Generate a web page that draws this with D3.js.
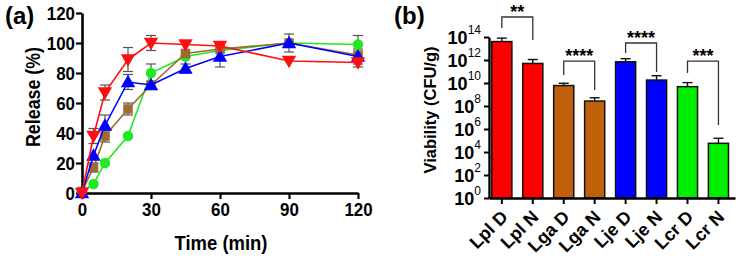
<!DOCTYPE html>
<html>
<head>
<meta charset="utf-8">
<script src="https://cdn.jsdelivr.net/npm/d3@7"></script>
<style>
  body { margin: 0; background: #fff; }
  svg { display: block; font-family: "Liberation Sans", Arial, sans-serif; }
</style>
</head>
<body>
<script>
// panel (a): release over time
var times = [0, 5, 10, 20, 30, 45, 60, 90, 120];
var greenRelease = [1, 6, 20, 38, 80, 91, 95, 100, 99];
var greenErr     = [0, 0, 0, 0, 6, 0, 0, 0, 6];
var brownRelease = [1, 17, 38, 56, 72, 93, 96, 100, 92];
var brownErr     = [0, 3, 4, 4, 0, 0, 0, 0, 0];
var blueRelease  = [0, 25, 45, 74, 72, 83, 91, 100, 91];
var blueErr      = [0, 0, 7, 5, 0, 3, 7, 6, 5];
var redRelease   = [0, 38, 67, 89, 100, 99, 98, 88, 87];
var redErr       = [0, 5, 5, 8, 5, 0, 0, 0, 3];
var releaseTicks = [0, 20, 40, 60, 80, 100, 120];
var timeTicks = [0, 30, 60, 90, 120];

// panel (b): viability
var strains = ["Lpl D", "Lpl N", "Lga D", "Lga N", "Lje D", "Lje N", "Lcr D", "Lcr N"];
var viability = [4e13, 5e11, 6e9, 2.7e8, 7e11, 1.8e10, 4.8e9, 5.7e4];
var viabilitySd = [4e13, 6e11, 3.5e9, 2.5e8, 6e11, 2.5e10, 6e9, 1e5];
var barColors = ["#ff0000", "#ff0000", "#c0600a", "#c0600a", "#0000ff", "#0000ff", "#00ee00", "#00ee00"];
var logTicks = [1, 1e2, 1e4, 1e6, 1e8, 1e10, 1e12, 1e14];
// brackets: [from, to, top, left leg end, right leg end, stars]
var brackets = [
  [0, 1, 5.5e15, 6e14, 5.5e13, "**"],
  [2, 3, 8e11, 5e10, 2.5e9, "****"],
  [4, 5, 3e13, 4e12, 9e10, "****"],
  [6, 7, 8e11, 7.5e10, 2.2e6, "***"]
];

var W = 744, H = 262;
var svg = d3.select("body").append("svg").attr("width", W).attr("height", H);

// condensed look for the bold labels of panel (a)
var squeeze = function (sel, perChar) {
  sel.attr("lengthAdjust", "spacingAndGlyphs")
    .attr("textLength", function () { return this.textContent.length * perChar; });
};

// ---------- panel (a) ----------
var x = d3.scaleLinear().domain([0, 120]).range([82, 358]);
var y = d3.scaleLinear().domain([0, 120]).range([193, 13]);

var gA = svg.append("g");

var xAxisA = gA.append("g").attr("transform", "translate(0,193)")
  .call(d3.axisBottom(x).tickValues(timeTicks).tickSize(6).tickSizeOuter(0).tickPadding(4));
var yAxisA = gA.append("g").attr("transform", "translate(82,0)")
  .call(d3.axisLeft(y).tickValues(releaseTicks).tickSize(6).tickSizeOuter(0).tickPadding(1));

[xAxisA, yAxisA].forEach(function (ax) {
  ax.select(".domain").attr("stroke-width", 2.6);
  ax.selectAll(".tick line").attr("stroke-width", 2.2);
  ax.selectAll("text").attr("font-size", 19)
    .attr("font-weight", "bold").attr("fill", "#000")
    .call(squeeze, 9.4);
});
yAxisA.selectAll("text").attr("dy", "0.36em");

gA.append("text").attr("transform", "translate(40,97) rotate(-90)")
  .attr("text-anchor", "middle").attr("font-size", 20).attr("font-weight", "bold")
  .attr("textLength", 100).attr("lengthAdjust", "spacingAndGlyphs")
  .text("Release (%)");
gA.append("text").attr("x", 221).attr("y", 250)
  .attr("text-anchor", "middle").attr("font-size", 20).attr("font-weight", "bold")
  .attr("textLength", 93).attr("lengthAdjust", "spacingAndGlyphs")
  .text("Time (min)");
gA.append("text").attr("x", 5).attr("y", 24)
  .attr("font-size", 24).attr("font-weight", "bold").text("(a)");

var series = [
  { vals: greenRelease, err: greenErr, color: "#22e822", shape: "circle" },
  { vals: brownRelease, err: brownErr, color: "#9b6b30", shape: "square" },
  { vals: blueRelease, err: blueErr, color: "#0000ff", shape: "up" },
  { vals: redRelease, err: redErr, color: "#ff1010", shape: "down" }
];

var line = d3.line()
  .x(function (d, i) { return x(times[i]); })
  .y(function (d) { return y(d); });

// error bars underneath
series.forEach(function (s) {
  var eg = gA.append("g").attr("stroke", "#555").attr("stroke-width", 1.2);
  s.vals.forEach(function (v, i) {
    if (!s.err[i]) return;
    var cx = x(times[i]);
    eg.append("line").attr("x1", cx).attr("x2", cx).attr("y1", y(v - s.err[i])).attr("y2", y(v + s.err[i]));
    eg.append("line").attr("x1", cx - 5).attr("x2", cx + 5).attr("y1", y(v + s.err[i])).attr("y2", y(v + s.err[i]));
    eg.append("line").attr("x1", cx - 5).attr("x2", cx + 5).attr("y1", y(v - s.err[i])).attr("y2", y(v - s.err[i]));
  });
});

var symbols = {
  circle: d3.symbol().type(d3.symbolCircle).size(85),
  square: d3.symbol().type(d3.symbolSquare).size(90),
  up: d3.symbol().type(d3.symbolTriangle).size(90),
  down: d3.symbol().type(d3.symbolTriangle).size(90)
};

series.forEach(function (s) {
  gA.append("path").attr("d", line(s.vals))
    .attr("fill", "none").attr("stroke", s.color).attr("stroke-width", 1.6);
  gA.append("g").selectAll("path").data(s.vals).enter().append("path")
    .attr("d", symbols[s.shape])
    .attr("transform", function (d, i) {
      var t = "translate(" + x(times[i]) + "," + y(d) + ")";
      if (s.shape === "up") t += " translate(0,1)";
      if (s.shape === "down") t += " rotate(180) translate(0,1)";
      return t;
    })
    .attr("fill", s.color);
});

// ---------- panel (b) ----------
var xb = d3.scaleBand().domain(strains).range([489, 735])
  .paddingInner(0.35).paddingOuter(0.15).align(0.3);
var yb = d3.scaleLog().domain([1, 1e14]).range([198, 37]);

var gB = svg.append("g");

gB.append("g").selectAll("rect").data(viability).enter().append("rect")
  .attr("x", function (d, i) { return xb(strains[i]); })
  .attr("width", xb.bandwidth())
  .attr("y", function (d) { return yb(d); })
  .attr("height", function (d) { return yb(1) - yb(d); })
  .attr("fill", function (d, i) { return barColors[i]; })
  .attr("stroke", "#111").attr("stroke-width", 1.5);

var errB = gB.append("g").attr("stroke", "#111").attr("stroke-width", 1.4);
viability.forEach(function (v, i) {
  var cx = xb(strains[i]) + xb.bandwidth() / 2;
  var top = yb(v + viabilitySd[i]);
  errB.append("line").attr("x1", cx).attr("x2", cx).attr("y1", yb(v)).attr("y2", top);
  errB.append("line").attr("x1", cx - 5).attr("x2", cx + 5).attr("y1", top).attr("y2", top);
});

var xAxisB = gB.append("g").attr("transform", "translate(0,198)")
  .call(d3.axisBottom(xb).tickSize(6).tickSizeOuter(0));
var yAxisB = gB.append("g").attr("transform", "translate(489,0)")
  .call(d3.axisLeft(yb).tickValues(logTicks).tickSize(5).tickSizeOuter(0).tickFormat(""));

[xAxisB, yAxisB].forEach(function (ax) {
  ax.select(".domain").attr("stroke-width", 2.4);
  ax.selectAll(".tick line").attr("stroke-width", 2);
});

xAxisB.selectAll("text")
  .attr("font-size", 18).attr("font-weight", "bold").attr("fill", "#000")
  .attr("text-anchor", "end")
  .attr("x", 0).attr("y", 0).attr("dy", 0)
  .attr("transform", "translate(7,20) rotate(-45)");

yAxisB.selectAll(".tick").each(function (d) {
  var t = d3.select(this).append("text")
    .attr("x", -8).attr("dy", "0.36em")
    .attr("text-anchor", "end").attr("fill", "#000")
    .attr("font-size", 18).attr("font-weight", "bold");
  t.append("tspan").text("10");
  t.append("tspan").attr("font-size", 12).attr("font-weight", "normal").attr("dy", "-0.8em")
    .text(Math.round(Math.log10(d)));
});

gB.append("text").attr("transform", "translate(436,110) rotate(-90)")
  .attr("text-anchor", "middle").attr("font-size", 17).attr("font-weight", "bold")
  .attr("textLength", 127).attr("lengthAdjust", "spacingAndGlyphs")
  .text("Viability (CFU/g)");
gB.append("text").attr("x", 394).attr("y", 24)
  .attr("font-size", 24).attr("font-weight", "bold").text("(b)");

var bg = gB.append("g");
brackets.forEach(function (b) {
  var x1 = xb(strains[b[0]]) + xb.bandwidth() / 2;
  var x2 = xb(strains[b[1]]) + xb.bandwidth() / 2;
  var yt = yb(b[2]);
  bg.append("path")
    .attr("d", "M" + x1 + "," + yb(b[3]) + "V" + yt + "H" + x2 + "V" + yb(b[4]))
    .attr("fill", "none").attr("stroke", "#333").attr("stroke-width", 1.3);
  bg.append("text").attr("x", (x1 + x2) / 2).attr("y", yt + 1)
    .attr("text-anchor", "middle").attr("font-size", 18).attr("font-weight", "bold")
    .text(b[5]);
});
</script>
</body>
</html>
